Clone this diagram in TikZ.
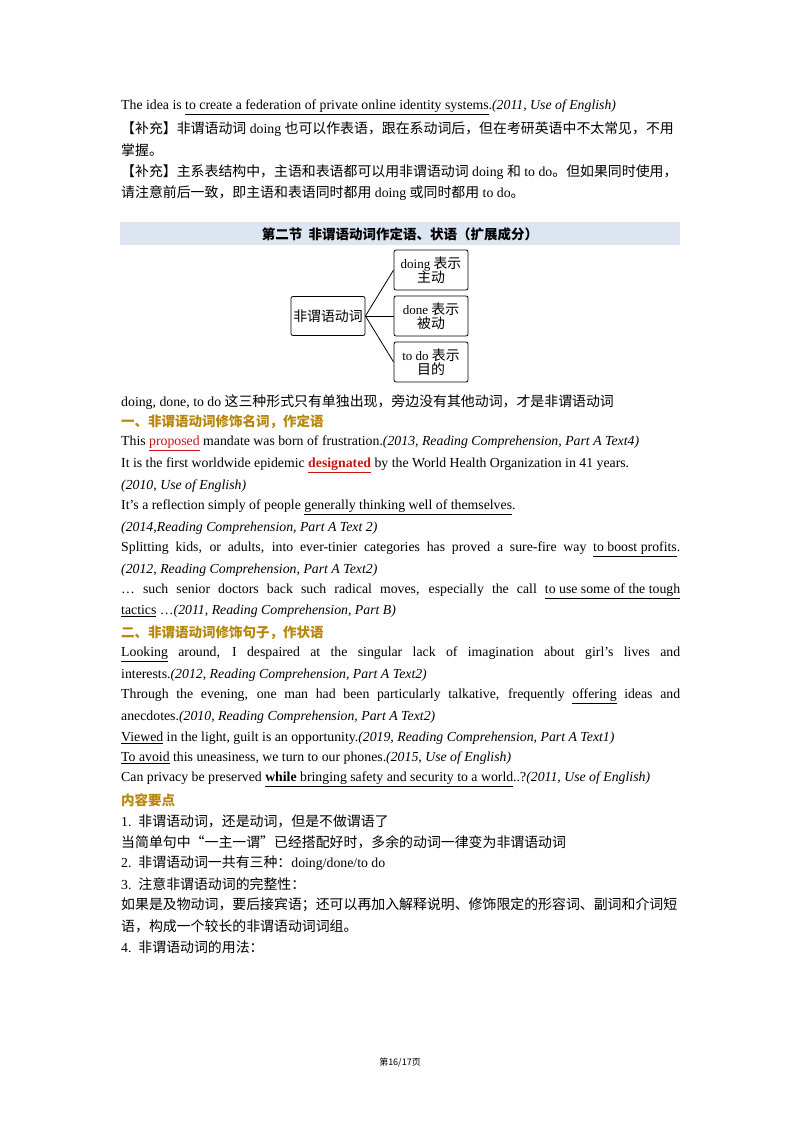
\documentclass[tikz,border=0pt]{standalone}
\usepackage{fontspec}
\setmainfont{Liberation Serif}
\newfontfamily\cjk{Noto Sans CJK SC}
\usepackage{xcolor}
\definecolor{gold}{RGB}{184,134,11}
\definecolor{hbar}{RGB}{221,229,242}
\definecolor{rd}{RGB}{200,20,20}
\newcommand{\zh}[1]{{\cjk\fontsize{13.9}{16}\selectfont #1}}
\newcommand{\ci}[1]{\textit{#1}}
\newcommand{\uu}[1]{\underline{#1}}
\newcommand{\jl}[1]{\makebox[559pt][s]{#1}}
\begin{document}
\begin{tikzpicture}[x=1pt,y=-1pt,
  ln/.style={anchor=west,inner sep=0pt,font=\fontsize{13.8}{16}\selectfont},
  hd/.style={ln,text=gold,font=\cjk\bfseries\fontsize{13.5}{15}\selectfont},
  bx/.style={draw,thick,rounded corners=2pt,align=center,inner sep=2pt,font=\fontsize{13}{16}\selectfont}]
\useasboundingbox (0,0) rectangle (800,1132);
\fill[white] (0,0) rectangle (800,1132);
\node[ln] (l1) at (121,107) {The idea is \uu{to create a federation of private online identity systems}.\ci{(2011, Use of English)}};
\node[ln] (l2) at (121,129) {\zh{【补充】非谓语动词} doing \zh{也可以作表语，跟在系动词后，但在考研英语中不太常见，不用}};
\node[ln] (l3) at (121,150) {\zh{掌握。}};
\node[ln] (l4) at (121,172) {\zh{【补充】主系表结构中，主语和表语都可以用非谓语动词} doing \zh{和} to do\zh{。但如果同时使用，}};
\node[ln] (l5) at (121,193) {\zh{请注意前后一致，即主语和表语同时都用}~doing~\zh{或同时都用}~to do\zh{。}};
\fill[hbar] (120,222) rectangle (680,245);
\node[inner sep=0pt,font=\cjk\bfseries\fontsize{13.5}{15}\selectfont] (h) at (400,234) {第二节\ \ 非谓语动词作定语、状语（扩展成分）};
\node[bx,minimum width=74pt,minimum height=39pt] (c) at (328,316) {\zh{非谓语动词}};
\node[bx,minimum width=74pt,minimum height=40pt] (b1) at (431,270) {doing \zh{表示}\\[-2pt]\zh{主动}};
\node[bx,minimum width=74pt,minimum height=40pt] (b2) at (431,316) {done \zh{表示}\\[-2pt]\zh{被动}};
\node[bx,minimum width=74pt,minimum height=40pt] (b3) at (431,362) {to do \zh{表示}\\[-2pt]\zh{目的}};
\draw[thick] (c.east) -- (b1.west);
\draw[thick] (c.east) -- (b2.west);
\draw[thick] (c.east) -- (b3.west);
\node[ln] (m1) at (121,402) {doing, done, to do \zh{这三种形式只有单独出现，旁边没有其他动词，才是非谓语动词}};
\node[hd] (m2) at (121,422) {一、非谓语动词修饰名词，作定语};
\node[ln] (m3) at (121,443) {This \textcolor{rd}{\uu{proposed}} mandate was born of frustration.\ci{(2013, Reading Comprehension, Part A Text4)}};
\node[ln] (m4) at (121,465) {It is the first worldwide epidemic \textcolor{rd}{\textbf{\uu{designated}}} by the World Health Organization in 41 years.};
\node[ln] (m5) at (121,486) {\ci{(2010, Use of English)}};
\node[ln] (m6) at (121,507) {It's a reflection simply of people \uu{generally thinking well of themselves}.};
\node[ln] (m7) at (121,528) {\ci{(2014,Reading Comprehension, Part A Text 2)}};
\node[ln] (m8) at (121,549) {\jl{Splitting kids, or adults, into ever-tinier categories has proved a sure-fire way \uu{to boost profits}.}};
\node[ln] (m9) at (121,570) {\ci{(2012, Reading Comprehension, Part A Text2)}};
\node[ln] (m10) at (121,591) {\jl{… such senior doctors back such radical moves, especially the call \uu{to use some of the tough}}};
\node[ln] (m11) at (121,611) {\uu{tactics} …\ci{(2011, Reading Comprehension, Part B)}};
\node[hd] (m12) at (121,633) {二、非谓语动词修饰句子，作状语};
\node[ln] (m13) at (121,654) {\jl{\uu{Looking} around, I despaired at the singular lack of imagination about girl’s lives and}};
\node[ln] (m14) at (121,675) {interests.\ci{(2012, Reading Comprehension, Part A Text2)}};
\node[ln] (m15) at (121,696) {\jl{Through the evening, one man had been particularly talkative, frequently \uu{offering} ideas and}};
\node[ln] (m16) at (121,717) {anecdotes.\ci{(2010, Reading Comprehension, Part A Text2)}};
\node[ln] (m17) at (121,738) {\uu{Viewed} in the light, guilt is an opportunity.\ci{(2019, Reading Comprehension, Part A Text1)}};
\node[ln] (m18) at (121,758) {\uu{To avoid} this uneasiness, we turn to our phones.\ci{(2015, Use of English)}};
\node[ln] (m19) at (121,779) {Can privacy be preserved \uu{\textbf{while} bringing safety and security to a world}..?\ci{(2011, Use of English)}};
\node[hd] (m20) at (121,800) {内容要点};
\node[ln] (m21) at (121,821) {1.\ \ \zh{非谓语动词，还是动词，但是不做谓语了}};
\node[ln] (m22) at (121,842) {\zh{当简单句中“一主一谓”已经搭配好时，多余的动词一律变为非谓语动词}};
\node[ln] (m23) at (121,863) {2.\ \ \zh{非谓语动词一共有三种：}doing/done/to do};
\node[ln] (m24) at (121,884) {3.\ \ \zh{注意非谓语动词的完整性：}};
\node[ln] (m25) at (121,905) {\zh{如果是及物动词，要后接宾语；还可以再加入解释说明、修饰限定的形容词、副词和介词短}};
\node[ln] (m26) at (121,926) {\zh{语，构成一个较长的非谓语动词词组。}};
\node[ln] (m27) at (121,947) {4.\ \ \zh{非谓语动词的用法：}};
\node[inner sep=0pt,font=\cjk\fontsize{9}{11}\selectfont] (ft) at (400,1062) {第16/17页};
\end{tikzpicture}
\end{document}
